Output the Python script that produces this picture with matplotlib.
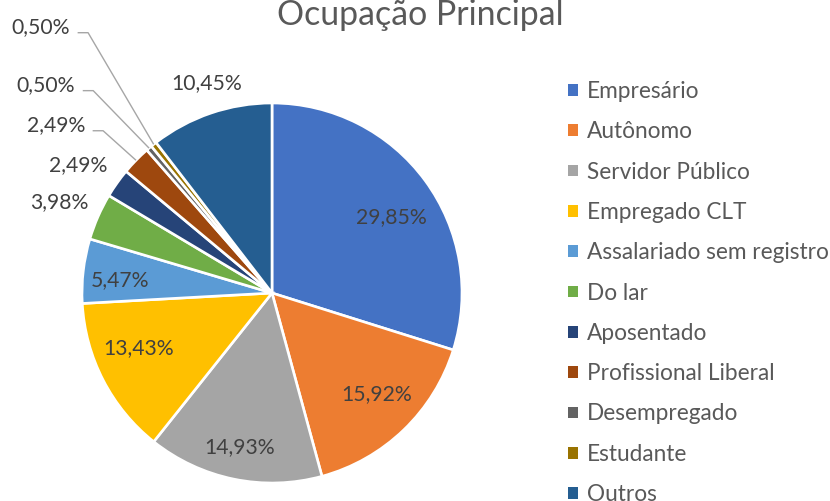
import matplotlib
matplotlib.use("Agg")
import matplotlib.pyplot as plt
import matplotlib.patches as mpatches
import numpy as np

# ---------------- data ----------------
categories = ["Empresário", "Autônomo", "Servidor Público", "Empregado CLT",
              "Assalariado sem registro", "Do lar", "Aposentado",
              "Profissional Liberal", "Desempregado", "Estudante", "Outros"]
values = [29.85, 15.92, 14.93, 13.43, 5.47, 3.98, 2.49, 2.49, 0.50, 0.50, 10.45]
labels = ["29,85%", "15,92%", "14,93%", "13,43%", "5,47%", "3,98%",
          "2,49%", "2,49%", "0,50%", "0,50%", "10,45%"]
colors = ["#4472C4", "#ED7D31", "#A5A5A5", "#FFC000", "#5B9BD5", "#70AD47",
          "#264478", "#9E480E", "#636363", "#997300", "#255E91"]
title = "Ocupação Principal"

# label layout (data units, pie radius = 1)
label_pos = [(0.63, 0.40), (0.55, -0.53), (-0.17, -0.81), (-0.70, -0.29),
             (-0.80, 0.07), (-1.121, 0.479), (-1.021, 0.674), (-1.137, 0.884),
             (-1.189, 1.095), (-1.216, 1.400), (-0.342, 1.105)]
leader = [False, False, False, False, False, False, False, True, True, True, False]

FONT = "Lato"
W, H = 830, 501
fig = plt.figure(figsize=(W / 100, H / 100), dpi=100)

cx, cy, R = 272, 293, 190
ax = fig.add_axes([(cx - R) / W, (H - cy - R) / H, 2 * R / W, 2 * R / H])
wedges, _ = ax.pie(values, colors=colors, startangle=90, counterclock=False,
                   radius=1.0, wedgeprops=dict(edgecolor="white", linewidth=1.9))
ax.set_xlim(-1, 1)
ax.set_ylim(-1, 1)
ax.set_aspect("equal")
ax.axis("off")

for w, lab, (lx, ly), ld in zip(wedges, labels, label_pos, leader):
    ax.text(lx, ly, lab, ha="center", va="center", fontsize=15.2,
            family=FONT, color="#404040", clip_on=False)
    if ld:
        ang = np.deg2rad((w.theta1 + w.theta2) / 2)
        ex, ey = np.cos(ang), np.sin(ang)
        sx, sy = lx + 0.193, ly - 0.03
        kx = sx + 0.055
        ax.plot([sx, kx, ex], [sy, sy, ey], color="#A6A6A6", lw=1.0,
                clip_on=False, solid_capstyle="butt")

fig.text(420 / W, 1 - 15 / H, title, ha="center", va="center",
         fontsize=24.4, family=FONT, color="#595959")

handles = [mpatches.Patch(facecolor=c, edgecolor="none") for c in colors]
leg = fig.legend(handles, categories, loc="upper left",
                 bbox_to_anchor=(568 / W, 1 - 81 / H), frameon=False,
                 prop=dict(family=FONT, size=16.3), handlelength=0.42,
                 handleheight=0.42, handletextpad=0.4, labelspacing=0.853,
                 borderpad=0, borderaxespad=0)
for t in leg.get_texts():
    t.set_color("#595959")

fig.savefig("out.png", dpi=100)
